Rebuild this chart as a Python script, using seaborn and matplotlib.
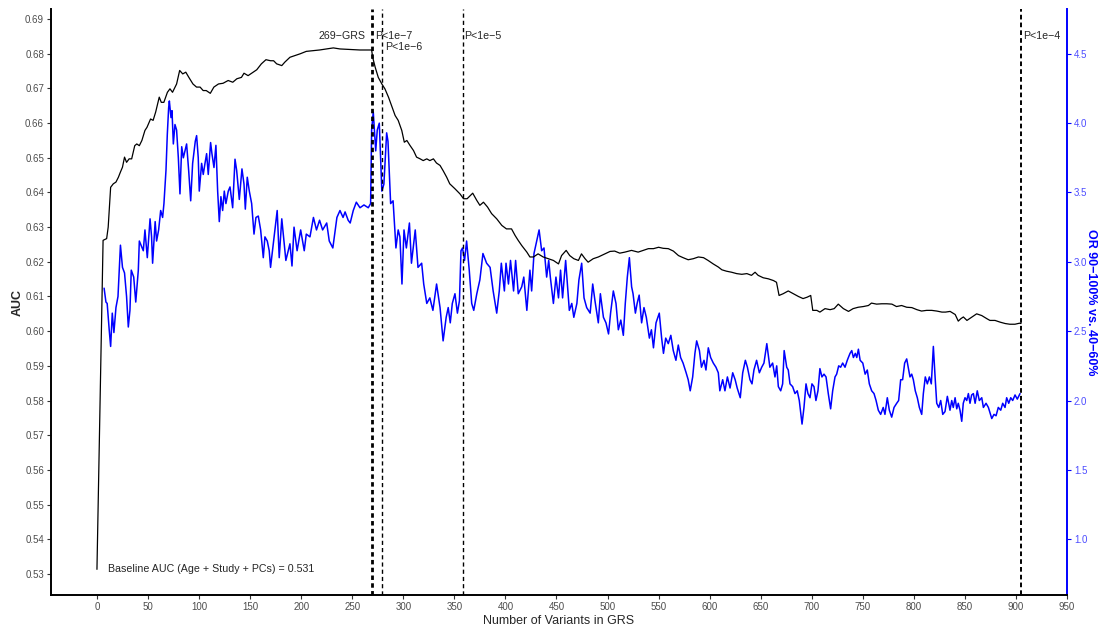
import matplotlib.pyplot as plt
import seaborn as sns

sns.set_style("ticks")
plt.rcParams['font.family'] = ['Liberation Sans', 'DejaVu Sans']

# AUC of the GRS model by number of variants (left axis)
auc_x = [0, 6, 9.5, 11, 13.4, 16, 18.6, 21, 23, 25, 27, 29, 31.5, 34, 37, 39, 41.5, 44, 47, 49,
         52.5, 55, 57.5, 61, 63, 65.5, 69, 71.5, 74, 78, 81, 84, 87, 90, 94, 97.5, 101, 104, 107, 111,
         114.5, 119, 123.5, 128.5, 133, 137, 141.5, 144, 148, 153, 156.5, 161, 165.5, 170, 173, 176, 181, 184, 189, 194,
         199, 205, 212, 218, 225, 231.5, 238, 244.5, 251, 257.5, 264, 269, 270, 272.5, 275.5, 279, 282, 285.5, 289, 292,
         295, 298.5, 301, 303.5, 306.5, 310, 313, 316.5, 319.5, 323, 326, 329.5, 332.5, 336, 339, 342.5, 345.5, 350.5, 355.5, 359,
         362.5, 368, 372, 375, 378.5, 382.5, 386.5, 391.5, 396.5, 401, 406, 409.5, 412.5, 416, 421, 424, 427.5, 432, 437, 442,
         447, 452, 455, 459.5, 463, 467, 471.5, 474.5, 478, 481, 486, 491, 496, 502.5, 507, 512, 517, 523.5, 530, 535,
         540, 545, 550, 554.5, 559.5, 564.5, 569.5, 574, 579, 584, 589, 594, 598.5, 603.5, 608.5, 612, 616.5, 621.5, 626.5, 631.5,
         636.5, 641, 644.5, 647.5, 652.5, 657.5, 662.5, 665.5, 668, 672, 677, 682, 687, 691.5, 695.5, 699, 701, 705, 708, 713,
         718, 722, 726, 731, 736, 740.5, 745.5, 750.5, 755.5, 758.5, 763.5, 768.5, 773.5, 778.5, 783, 788, 793, 798, 803, 807.5,
         812.5, 817.5, 822.5, 827.5, 831, 835.5, 840.5, 843.5, 846, 848.5, 852, 857, 861.5, 866.5, 871.5, 874.5, 879.5, 884.5, 889.5, 894,
         899, 903.5, 905]
auc_y = [0.5313, 0.6262, 0.6267, 0.6300, 0.6415, 0.6425, 0.6430, 0.6444, 0.6459, 0.6473, 0.6502, 0.6487, 0.6497, 0.6497, 0.6535, 0.6540, 0.6535, 0.6550, 0.6579, 0.6588,
         0.6612, 0.6608, 0.6632, 0.6675, 0.6660, 0.6660, 0.6689, 0.6699, 0.6689, 0.6713, 0.6752, 0.6742, 0.6747, 0.6732, 0.6713, 0.6704, 0.6704, 0.6694, 0.6694, 0.6686,
         0.6704, 0.6713, 0.6715, 0.6723, 0.6718, 0.6728, 0.6732, 0.6744, 0.6737, 0.6747, 0.6754, 0.6771, 0.6783, 0.6780, 0.6780, 0.6771, 0.6766, 0.6776, 0.6790, 0.6795,
         0.6800, 0.6807, 0.6809, 0.6811, 0.6814, 0.6817, 0.6814, 0.6813, 0.6812, 0.6811, 0.6811, 0.6811, 0.6790, 0.6761, 0.6732, 0.6713, 0.6699, 0.6675, 0.6646, 0.6622,
         0.6608, 0.6579, 0.6545, 0.6550, 0.6536, 0.6521, 0.6502, 0.6497, 0.6492, 0.6497, 0.6492, 0.6497, 0.6485, 0.6478, 0.6463, 0.6444, 0.6425, 0.6411, 0.6396, 0.6382,
         0.6382, 0.6398, 0.6377, 0.6363, 0.6372, 0.6358, 0.6339, 0.6324, 0.6305, 0.6295, 0.6295, 0.6276, 0.6262, 0.6247, 0.6228, 0.6214, 0.6214, 0.6223, 0.6214, 0.6209,
         0.6204, 0.6194, 0.6218, 0.6233, 0.6218, 0.6209, 0.6204, 0.6223, 0.6209, 0.6199, 0.6209, 0.6214, 0.6221, 0.6230, 0.6231, 0.6225, 0.6228, 0.6233, 0.6228, 0.6233,
         0.6238, 0.6238, 0.6242, 0.6239, 0.6238, 0.6231, 0.6218, 0.6212, 0.6206, 0.6209, 0.6214, 0.6212, 0.6204, 0.6194, 0.6185, 0.6177, 0.6173, 0.6170, 0.6166, 0.6164,
         0.6166, 0.6161, 0.6170, 0.6161, 0.6154, 0.6151, 0.6146, 0.6141, 0.6103, 0.6108, 0.6116, 0.6108, 0.6100, 0.6094, 0.6098, 0.6103, 0.6060, 0.6060, 0.6055, 0.6065,
         0.6062, 0.6065, 0.6078, 0.6065, 0.6057, 0.6065, 0.6069, 0.6071, 0.6074, 0.6081, 0.6078, 0.6079, 0.6079, 0.6078, 0.6071, 0.6074, 0.6069, 0.6068, 0.6062, 0.6058,
         0.6060, 0.6060, 0.6058, 0.6055, 0.6055, 0.6057, 0.6048, 0.6029, 0.6036, 0.6041, 0.6031, 0.6041, 0.6050, 0.6045, 0.6036, 0.6031, 0.6031, 0.6026, 0.6022, 0.6020,
         0.6020, 0.6023, 0.6022]

# OR top decile vs middle quintile (right axis)
or_x = [7, 8.8, 10, 12, 13.4, 15, 16.6, 18.6, 20.6, 23, 25, 27, 29, 30.7, 32.3, 33.6, 36, 38, 40.5, 41.5,
        43.7, 45.4, 47, 49.3, 52, 53.5, 54.5, 57, 58.4, 60.4, 62.4, 64.3, 65.6, 67.6, 68.9, 70.2, 70.9, 72.5, 73.5, 74.8,
        76.4, 78, 79.7, 81.3, 83, 84.6, 86.2, 87.8, 89.8, 91.8, 93.7, 96.3, 97.6, 99.2, 100.2, 102.5, 104.1, 105.8, 107.4, 109,
        111.3, 112.6, 114.6, 116.5, 118.2, 119.8, 121.4, 123.1, 124.7, 126.3, 128.6, 130.3, 132.9, 135.2, 136.8, 139.4, 142, 144, 145.3, 147.2,
        149.2, 151.5, 153.8, 155.7, 158, 160.3, 162.9, 164.5, 166.8, 168.7, 170, 173, 176.5, 178.5, 181, 185, 189, 191, 193, 196,
        199.5, 203, 205, 208.6, 212, 215, 218, 221, 225, 227.5, 231, 235, 238, 241, 243, 246, 248, 251, 254, 257.6,
        261.5, 265.7, 268, 269, 270.6, 273, 274.5, 276.5, 279, 281, 283.7, 285, 287.6, 290, 292.8, 295, 296.7, 298.7, 300.7, 303,
        306, 308, 311.7, 314.4, 318, 320, 323, 326, 329, 332.6, 336, 339, 342, 344, 346, 348, 350.6, 353, 355, 356.5,
        358, 360, 362, 364.6, 367, 369, 372, 375, 378, 381.6, 385, 388, 391.5, 394, 396, 399, 400.6, 403, 405, 408,
        410, 412.6, 416, 418, 421, 424, 425.7, 428, 430.6, 433, 435.5, 437.8, 440.4, 442.4, 444, 447, 449.5, 452, 454, 456,
        459, 462.6, 465, 467, 470, 472, 474.7, 477, 479.6, 483, 485.5, 487.7, 491, 493, 496, 498.5, 501, 503, 505.7, 508.3,
        510.6, 513, 515.5, 517.4, 519.4, 521.4, 523.6, 525, 527.3, 529, 531, 533.4, 535.7, 538, 541, 543, 545, 547.5, 550.7, 553,
        554.8, 557, 559.5, 562, 564.4, 567, 569.3, 571.6, 574, 577, 579, 581, 583.4, 585.6, 587.3, 590, 592, 594.5, 596.4, 598.7,
        601, 603.6, 606.2, 608.5, 610, 612.8, 615, 617.4, 620, 622.6, 625, 627, 630, 632.4, 635, 637, 639.5, 641.5, 643.4, 646,
        648.7, 651, 653.2, 656, 659, 661.7, 664, 665.7, 667.3, 669.6, 671.5, 673, 675.5, 677, 678.7, 681.3, 683.6, 685.8, 687.8, 690.5,
        692.4, 694.4, 696.3, 698.3, 700.2, 702.2, 704.1, 706.1, 708, 710, 712, 714, 716.2, 718.5, 720.5, 722.8, 724.4, 726.4, 728.3, 730.3,
        732.6, 734.8, 737.5, 739.2, 740.8, 742.7, 744.1, 745.7, 747.4, 750, 752.3, 754.4, 756.4, 758.7, 761, 763, 765.2, 767.5, 770, 771.7,
        774, 776, 778.3, 780.6, 783.2, 785.1, 787.1, 789, 791, 793, 795, 796.2, 797.9, 799.5, 801.4, 803.4, 805.4, 807.7, 809.3, 811.2,
        813.2, 815.2, 817.1, 819.1, 820.8, 822.4, 824.4, 826.3, 828.3, 830.5, 832.8, 835.4, 837.1, 838.6, 840.4, 842, 843.5, 845.2, 846.9, 848.4,
        850.1, 851.8, 853.4, 855, 856.6, 858.3, 860, 862.1, 864.1, 866.5, 868.1, 870.7, 873, 876.3, 878.5, 880.5, 882.7, 885.1, 887, 889.3,
        890.9, 892.9, 894.9, 896.8, 899.1, 901.3, 904]
or_y = [2.81, 2.71, 2.70, 2.51, 2.39, 2.63, 2.49, 2.67, 2.75, 3.12, 2.96, 2.92, 2.75, 2.53, 2.65, 2.94, 2.89, 2.71, 2.94, 3.15,
        3.11, 3.08, 3.23, 3.03, 3.31, 3.18, 2.99, 3.29, 3.15, 3.23, 3.37, 3.32, 3.42, 3.66, 3.92, 4.11, 4.16, 4.04, 4.09, 3.85,
        3.99, 3.95, 3.75, 3.49, 3.83, 3.75, 3.80, 3.85, 3.66, 3.44, 3.71, 3.87, 3.91, 3.75, 3.51, 3.71, 3.63, 3.71, 3.78, 3.63,
        3.86, 3.78, 3.68, 3.84, 3.51, 3.29, 3.47, 3.37, 3.51, 3.42, 3.51, 3.54, 3.39, 3.74, 3.66, 3.45, 3.67, 3.56, 3.38, 3.61,
        3.51, 3.42, 3.20, 3.32, 3.33, 3.23, 3.03, 3.18, 3.15, 3.08, 2.96, 3.15, 3.37, 3.03, 3.31, 3.01, 3.13, 2.97, 3.25, 3.08,
        3.23, 3.08, 3.20, 3.18, 3.32, 3.23, 3.30, 3.23, 3.28, 3.15, 3.10, 3.32, 3.37, 3.32, 3.36, 3.30, 3.28, 3.37, 3.43, 3.39,
        3.41, 3.39, 3.42, 3.95, 4.08, 3.80, 3.95, 4.00, 3.51, 3.56, 3.93, 3.87, 3.42, 3.44, 3.10, 3.23, 3.18, 2.84, 3.23, 3.10,
        3.28, 2.99, 3.23, 2.96, 2.99, 2.84, 2.70, 2.74, 2.65, 2.84, 2.67, 2.43, 2.60, 2.67, 2.56, 2.70, 2.77, 2.63, 2.72, 3.08,
        3.10, 3.01, 3.15, 2.94, 2.70, 2.65, 2.77, 2.87, 3.06, 2.99, 2.96, 2.79, 2.63, 2.79, 2.99, 2.79, 2.99, 2.84, 3.01, 2.79,
        3.01, 2.77, 2.82, 2.89, 2.65, 2.94, 2.79, 3.06, 3.15, 3.23, 3.08, 3.10, 2.89, 3.01, 2.89, 2.70, 2.89, 2.74, 2.94, 2.74,
        3.01, 2.65, 2.70, 2.60, 2.70, 2.87, 2.99, 2.74, 2.67, 2.63, 2.84, 2.72, 2.56, 2.77, 2.60, 2.56, 2.48, 2.63, 2.79, 2.70,
        2.51, 2.58, 2.47, 2.70, 2.89, 3.03, 2.82, 2.77, 2.63, 2.70, 2.76, 2.56, 2.67, 2.60, 2.45, 2.51, 2.38, 2.56, 2.63, 2.45,
        2.34, 2.45, 2.41, 2.47, 2.36, 2.29, 2.40, 2.31, 2.27, 2.20, 2.15, 2.07, 2.17, 2.34, 2.43, 2.36, 2.24, 2.29, 2.22, 2.38,
        2.31, 2.27, 2.24, 2.20, 2.07, 2.15, 2.07, 2.17, 2.09, 2.20, 2.15, 2.09, 2.02, 2.20, 2.29, 2.24, 2.15, 2.12, 2.22, 2.29,
        2.20, 2.24, 2.27, 2.41, 2.24, 2.27, 2.17, 2.25, 2.10, 2.07, 2.12, 2.36, 2.24, 2.22, 2.12, 2.10, 2.05, 2.07, 2.00, 1.83,
        1.95, 2.12, 2.05, 2.02, 2.12, 2.10, 2.00, 2.07, 2.23, 2.17, 2.19, 2.17, 2.05, 1.94, 2.07, 2.17, 2.19, 2.25, 2.24, 2.27,
        2.24, 2.29, 2.34, 2.36, 2.31, 2.34, 2.31, 2.37, 2.29, 2.27, 2.19, 2.22, 2.12, 2.07, 2.05, 2.00, 1.93, 1.90, 1.95, 1.90,
        2.02, 1.93, 1.88, 1.95, 1.98, 2.00, 2.15, 2.15, 2.27, 2.30, 2.22, 2.17, 2.19, 2.15, 2.07, 2.02, 1.95, 1.90, 2.05, 2.17,
        2.12, 2.17, 2.12, 2.39, 2.17, 1.98, 1.95, 2.00, 1.90, 1.92, 2.03, 1.93, 2.00, 1.95, 2.02, 1.94, 1.98, 1.93, 1.85, 1.98,
        2.02, 2.00, 2.05, 1.98, 2.04, 2.05, 1.98, 2.07, 2.00, 2.02, 1.95, 1.98, 1.95, 1.87, 1.90, 1.89, 1.95, 1.93, 1.98, 1.95,
        2.02, 1.98, 2.02, 2.00, 2.04, 2.01, 2.05]

# p-value thresholds
cut_x = [269, 279, 358, 905]
cut_labels = ["P<1e\u22127", "P<1e\u22126", "P<1e\u22125", "P<1e\u22124"]
baseline_auc = 0.531

auc_lim = (0.5239, 0.6929)
to_or = lambda a: (a - 0.5) * 25  # secondary axis transform

fig = plt.figure(figsize=(11.04, 6.26), dpi=100)
ax = fig.add_axes([0.0462, 0.0495, 0.9203, 0.936])
ax2 = ax.twinx()

sns.lineplot(x=or_x, y=or_y, ax=ax2, color="blue", linewidth=1.1, estimator=None, sort=False)
sns.lineplot(x=auc_x, y=auc_y, ax=ax, color="black", linewidth=0.9, estimator=None, sort=False)

ax.axvline(cut_x[0], color="black", lw=2.0, ls=(0, (1.6, 1.2)))
for xv in cut_x[1:3]:
    ax.axvline(xv, color="black", lw=1.0, ls=(0, (3, 2.2)))
ax.axvline(cut_x[3], color="black", lw=1.4, ls=(0, (2.4, 1.6)))

fs = 7.7
ax.text(263, 0.6850, "269\u2212GRS", ha="right", va="center", fontsize=fs)
ax.text(272.3, 0.6850, cut_labels[0], ha="left", va="center", fontsize=fs)
ax.text(282, 0.6819, cut_labels[1], ha="left", va="center", fontsize=fs)
ax.text(360, 0.6850, cut_labels[2], ha="left", va="center", fontsize=fs)
ax.text(907.5, 0.6850, cut_labels[3], ha="left", va="center", fontsize=fs)
ax.text(11, 0.5313, f"Baseline AUC (Age + Study + PCs) = {baseline_auc}", ha="left", va="center", fontsize=fs)

ax.set_xlim(-45, 950)
ax.set_ylim(*auc_lim)
ax2.set_ylim(to_or(auc_lim[0]), to_or(auc_lim[1]))

ax.set_xticks(range(0, 951, 50))
ax.set_yticks([0.53 + 0.01 * i for i in range(17)])
ax.set_yticklabels([f"{0.53 + 0.01 * i:.2f}" for i in range(17)])
ax2.set_yticks([1.0 + 0.5 * i for i in range(8)])
ax2.set_yticklabels([f"{1.0 + 0.5 * i:.1f}" for i in range(8)])

ax.tick_params(axis="both", labelsize=7, colors="#333333", labelcolor="#4d4d4d", length=3, width=0.8, pad=2)
ax2.tick_params(axis="y", labelsize=7, colors="blue", labelcolor="#4d4dff", length=3, width=0.8, pad=2)

ax.set_xlabel("Number of Variants in GRS", fontsize=9, labelpad=2)
ax.set_ylabel("AUC", fontsize=9, fontweight="bold", labelpad=1)
ax2.set_ylabel("OR 90\u2212100% vs. 40\u221260%", fontsize=9, fontweight="bold", color="blue",
               rotation=270, labelpad=7)

for s in ["top", "right"]:
    ax.spines[s].set_visible(False)
for s in ["left", "bottom"]:
    ax.spines[s].set_linewidth(1.4)
    ax.spines[s].set_color("black")
for s in ["top", "left", "bottom"]:
    ax2.spines[s].set_visible(False)
ax2.spines["right"].set_color("blue")
ax2.spines["right"].set_linewidth(1.4)

ax.set_zorder(ax2.get_zorder() + 1)
ax.patch.set_visible(False)

fig.savefig("out.png", dpi=100)
